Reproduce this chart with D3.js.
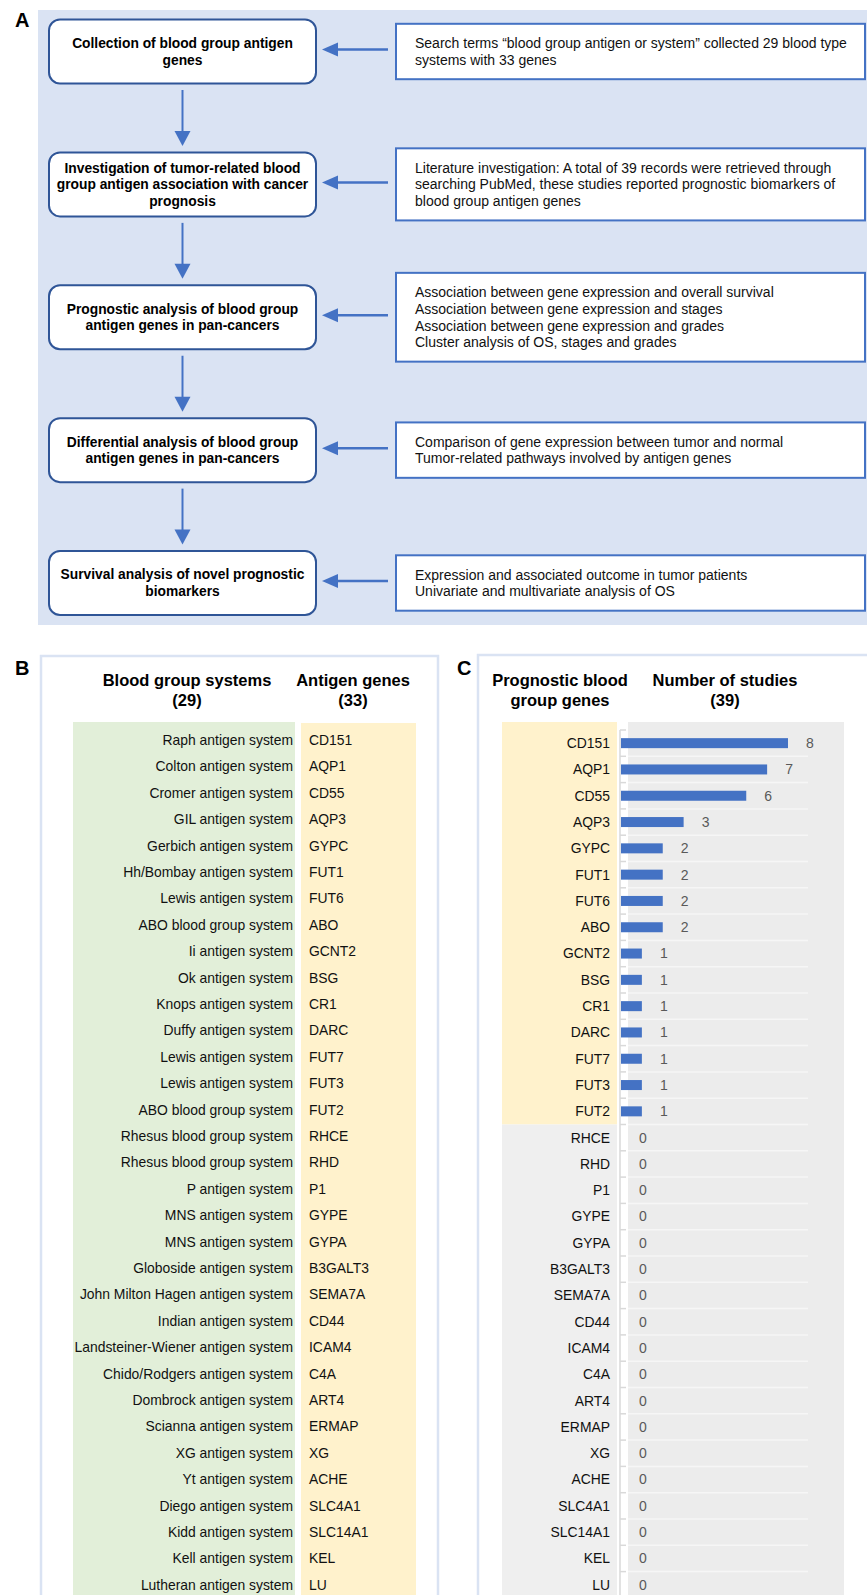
<!DOCTYPE html>
<html>
<head>
<meta charset="utf-8">
<script src="https://cdn.jsdelivr.net/npm/d3@7"></script>
<style>
  body { margin: 0; background: #fff; }
  svg { display: block; font-family: "Liberation Sans", Arial, sans-serif; }
</style>
</head>
<body>
<div id="content"></div>
<script>
// flowchart (panel A)
const steps = [
    ["Collection of blood group antigen", "genes"],
    ["Investigation of tumor-related blood", "group antigen association with cancer", "prognosis"],
    ["Prognostic analysis of blood group", "antigen genes in pan-cancers"],
    ["Differential analysis of blood group", "antigen genes in pan-cancers"],
    ["Survival analysis of novel prognostic", "biomarkers"],
]
const details = [
    ["Search terms \u201cblood group antigen or system\u201d collected 29 blood type", "systems with 33 genes"],
    ["Literature investigation: A total of 39 records were retrieved through", "searching PubMed, these studies reported prognostic biomarkers of", "blood group antigen genes"],
    ["Association between gene expression and overall survival", "Association between gene expression and stages", "Association between gene expression and grades", "Cluster analysis of OS, stages and grades"],
    ["Comparison of gene expression between tumor and normal", "Tumor-related pathways involved by antigen genes"],
    ["Expression and associated outcome in tumor patients", "Univariate and multivariate analysis of OS"],
]

// panel B
const bloodSystems = [
    "Raph antigen system", "Colton antigen system", "Cromer antigen system", "GIL antigen system",
    "Gerbich antigen system", "Hh/Bombay antigen system", "Lewis antigen system", "ABO blood group system",
    "Ii antigen system", "Ok antigen system", "Knops antigen system", "Duffy antigen system",
    "Lewis antigen system", "Lewis antigen system", "ABO blood group system", "Rhesus blood group system",
    "Rhesus blood group system", "P antigen system", "MNS antigen system", "MNS antigen system",
    "Globoside antigen system", "John Milton Hagen antigen system", "Indian antigen system",
    "Landsteiner-Wiener antigen system", "Chido/Rodgers antigen system", "Dombrock antigen system",
    "Scianna antigen system", "XG antigen system", "Yt antigen system", "Diego antigen system",
    "Kidd antigen system", "Kell antigen system", "Lutheran antigen system",
]
const antigenGenes = [
    "CD151", "AQP1", "CD55", "AQP3", "GYPC", "FUT1", "FUT6", "ABO", "GCNT2", "BSG", "CR1", "DARC",
    "FUT7", "FUT3", "FUT2", "RHCE", "RHD", "P1", "GYPE", "GYPA", "B3GALT3", "SEMA7A", "CD44",
    "ICAM4", "C4A", "ART4", "ERMAP", "XG", "ACHE", "SLC4A1", "SLC14A1", "KEL", "LU",
]

// panel C
const studyCounts = [8, 7, 6, 3, 2, 2, 2, 2, 1, 1, 1, 1, 1, 1, 1,
    0, 0, 0, 0, 0, 0, 0, 0, 0, 0, 0, 0, 0, 0, 0, 0, 0, 0]

const outerWidth = 867
const outerHeight = 1595
const lineH = 16.7

const svg = d3.select("#content").append("svg")
    .attr("width", outerWidth)
    .attr("height", outerHeight)

// ---------- panel A ----------
const a = svg.append("g")
a.append("rect")
    .attr("x", 38).attr("y", 10)
    .attr("width", outerWidth - 38).attr("height", 615)
    .attr("fill", "#dae3f3")
a.append("text")
    .attr("x", 15).attr("y", 27)
    .style("font-size", "20px").style("font-weight", "700")
    .text("A")

const yStep = d3.scalePoint()
    .domain(d3.range(steps.length))
    .range([51.5, 583])

const leftX = 49, leftW = 267, boxH = 64
const midX = leftX + leftW / 2
const rightX = 396, rightW = 469

// vertical arrows
d3.range(steps.length - 1).forEach(i => {
    const y0 = yStep(i) + boxH / 2 + 6.5
    const y1 = yStep(i + 1) - boxH / 2 - 6.5
    a.append("line")
        .attr("x1", midX).attr("x2", midX)
        .attr("y1", y0).attr("y2", y1 - 12)
        .attr("stroke", "#4472c4").attr("stroke-width", 2)
    a.append("path")
        .attr("d", `M${midX - 8},${y1 - 15}L${midX + 8},${y1 - 15}L${midX},${y1}Z`)
        .attr("fill", "#4472c4")
})

steps.forEach((lines, i) => {
    const cy = yStep(i)
    a.append("rect")
        .attr("x", leftX).attr("y", cy - boxH / 2)
        .attr("width", leftW).attr("height", boxH)
        .attr("rx", 11)
        .attr("fill", "#fff")
        .attr("stroke", "#2f5597").attr("stroke-width", 2)
    a.append("g").selectAll("text")
        .data(lines)
        .join("text")
        .attr("x", midX)
        .attr("y", (d, j) => cy + (j - (lines.length - 1) / 2) * lineH)
        .attr("dy", "0.35em")
        .style("text-anchor", "middle")
        .style("font-size", "13.8px")
        .style("font-weight", "700")
        .text(d => d)

    const det = details[i]
    const h = det.length * lineH + 22
    a.append("rect")
        .attr("x", rightX).attr("y", cy - h / 2)
        .attr("width", rightW).attr("height", h)
        .attr("fill", "#fff")
        .attr("stroke", "#4472c4").attr("stroke-width", 2)
    a.append("g").selectAll("text")
        .data(det)
        .join("text")
        .attr("x", rightX + 19)
        .attr("y", (d, j) => cy + (j - (det.length - 1) / 2) * lineH)
        .attr("dy", "0.35em")
        .style("font-size", "14px")
        .style("fill", "#111")
        .text(d => d)

    // horizontal arrow
    const tip = leftX + leftW + 6
    a.append("line")
        .attr("x1", rightX - 8).attr("x2", tip + 14)
        .attr("y1", cy - 2).attr("y2", cy - 2)
        .attr("stroke", "#4472c4").attr("stroke-width", 2.5)
    a.append("path")
        .attr("d", `M${tip},${cy - 2}L${tip + 16},${cy - 9}L${tip + 16},${cy + 5}Z`)
        .attr("fill", "#4472c4")
})

// ---------- panel B ----------
const b = svg.append("g")
b.append("rect")
    .attr("x", 41).attr("y", 656)
    .attr("width", 397).attr("height", 960)
    .attr("fill", "#fff")
    .attr("stroke", "#dae3f3").attr("stroke-width", 2.5)
b.append("text")
    .attr("x", 15).attr("y", 675)
    .style("font-size", "20px").style("font-weight", "700")
    .text("B")

const headerB = [
    {x: 187, lines: ["Blood group systems", "(29)"]},
    {x: 353, lines: ["Antigen genes", "(33)"]},
]
headerB.forEach(hd => {
    b.append("g").selectAll("text")
        .data(hd.lines)
        .join("text")
        .attr("x", hd.x)
        .attr("y", (d, j) => 686 + j * 20)
        .style("text-anchor", "middle")
        .style("font-size", "16.5px")
        .style("font-weight", "700")
        .text(d => d)
})

const yB = d3.scaleBand()
    .domain(d3.range(antigenGenes.length))
    .range([727, 727 + antigenGenes.length * 26.4])

b.append("rect")
    .attr("x", 73).attr("y", 722)
    .attr("width", 222).attr("height", outerHeight - 722)
    .attr("fill", "#e2efd9")
b.append("rect")
    .attr("x", 301).attr("y", 723)
    .attr("width", 115).attr("height", outerHeight - 723)
    .attr("fill", "#fff2cc")

b.append("g").selectAll("text")
    .data(bloodSystems)
    .join("text")
    .attr("x", 293)
    .attr("y", (d, i) => yB(i) + yB.bandwidth() / 2)
    .attr("dy", "0.35em")
    .style("text-anchor", "end")
    .style("font-size", "13.9px")
    .style("fill", "#111")
    .text(d => d)

b.append("g").selectAll("text")
    .data(antigenGenes)
    .join("text")
    .attr("x", 309)
    .attr("y", (d, i) => yB(i) + yB.bandwidth() / 2)
    .attr("dy", "0.35em")
    .style("font-size", "13.9px")
    .style("fill", "#111")
    .text(d => d)

// ---------- panel C ----------
const c = svg.append("g")
c.append("rect")
    .attr("x", 478).attr("y", 655)
    .attr("width", 420).attr("height", 960)
    .attr("fill", "#fff")
    .attr("stroke", "#dae3f3").attr("stroke-width", 2.5)
c.append("text")
    .attr("x", 457).attr("y", 675)
    .style("font-size", "20px").style("font-weight", "700")
    .text("C")

const headerC = [
    {x: 560, lines: ["Prognostic blood", "group genes"]},
    {x: 725, lines: ["Number of studies", "(39)"]},
]
headerC.forEach(hd => {
    c.append("g").selectAll("text")
        .data(hd.lines)
        .join("text")
        .attr("x", hd.x)
        .attr("y", (d, j) => 686 + j * 20)
        .style("text-anchor", "middle")
        .style("font-size", "16.5px")
        .style("font-weight", "700")
        .text(d => d)
})

const yC = d3.scaleBand()
    .domain(antigenGenes)
    .range([730, 730 + antigenGenes.length * 26.3])
const xC = d3.scaleLinear()
    .domain([0, 8])
    .range([621, 788])

const nPrognostic = studyCounts.filter(v => v > 0).length
const prognosticEnd = yC(antigenGenes[nPrognostic - 1]) + yC.bandwidth()

c.append("rect")
    .attr("x", 502).attr("y", 722)
    .attr("width", 115).attr("height", prognosticEnd - 722)
    .attr("fill", "#fff2cc")
c.append("rect")
    .attr("x", 502).attr("y", prognosticEnd)
    .attr("width", 115).attr("height", outerHeight - prognosticEnd)
    .attr("fill", "#efefef")
c.append("rect")
    .attr("x", 628).attr("y", 722)
    .attr("width", 216).attr("height", outerHeight - 722)
    .attr("fill", "#ececec")

// gridlines + ticks at band edges
const edges = antigenGenes.map(g => yC(g))
c.append("g").selectAll("line")
    .data(edges.slice(1))
    .join("line")
    .attr("x1", 628).attr("x2", 808)
    .attr("y1", d => d).attr("y2", d => d)
    .attr("stroke", "#f6f6f6").attr("stroke-width", 1.5)
c.append("g").selectAll("line")
    .data(edges)
    .join("line")
    .attr("x1", xC(0) - 1).attr("x2", xC(0) + 5)
    .attr("y1", d => d).attr("y2", d => d)
    .attr("stroke", "#d9d9d9").attr("stroke-width", 1.5)
c.append("line")
    .attr("x1", xC(0) - 1).attr("x2", xC(0) - 1)
    .attr("y1", edges[0]).attr("y2", outerHeight)
    .attr("stroke", "#d9d9d9").attr("stroke-width", 1.5)

const cData = antigenGenes.map((g, i) => ({gene: g, value: studyCounts[i]}))

c.append("g").selectAll("rect")
    .data(cData.filter(d => d.value > 0))
    .join("rect")
    .attr("x", xC(0))
    .attr("y", d => yC(d.gene) + yC.bandwidth() / 2 - 5)
    .attr("width", d => xC(d.value) - xC(0))
    .attr("height", 10)
    .attr("fill", "#4472c4")

c.append("g").selectAll("text")
    .data(cData)
    .join("text")
    .attr("x", d => xC(d.value) + 18)
    .attr("y", d => yC(d.gene) + yC.bandwidth() / 2)
    .attr("dy", "0.35em")
    .style("font-size", "14px")
    .style("fill", "#595959")
    .text(d => d.value)

c.append("g").selectAll("text")
    .data(cData)
    .join("text")
    .attr("x", 610)
    .attr("y", d => yC(d.gene) + yC.bandwidth() / 2)
    .attr("dy", "0.35em")
    .style("text-anchor", "end")
    .style("font-size", "13.9px")
    .style("fill", "#111")
    .text(d => d.gene)
</script>
</body>
</html>
